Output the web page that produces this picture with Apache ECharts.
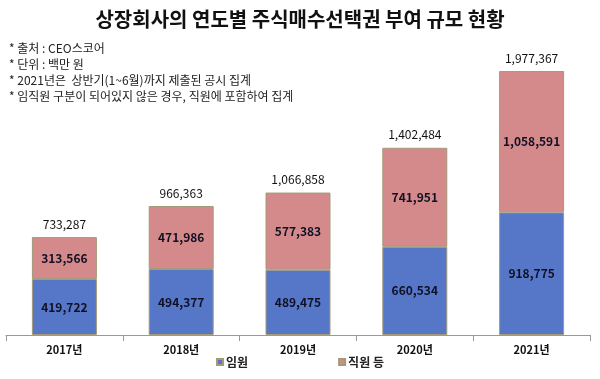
<!DOCTYPE html>
<html><head><meta charset="utf-8">
<script src="https://cdn.jsdelivr.net/npm/echarts@6/dist/echarts.min.js"></script>
<style>html,body{margin:0;padding:0;background:#fff}#c{width:600px;height:379px}</style>
</head><body><div id="c"></div>
<script>
const categories = ['2017년', '2018년', '2019년', '2020년', '2021년'];
const executives = [419722, 494377, 489475, 660534, 918775];
const employees = [313566, 471986, 577383, 741951, 1058591];
const totals = [733287, 966363, 1066858, 1402484, 1977367];
const seriesNames = ['임원', '직원 등'];
const titleText = '상장회사의 연도별 주식매수선택권 부여 규모 현황';
const notes = ['* 출처 : CEO스코어', '* 단위 : 백만 원', '* 2021년은  상반기(1~6월)까지 제출된 공시 집계', '* 임직원 구분이 되어있지 않은 경우, 직원에 포함하여 집계'];

const fmt = v => Number(v).toLocaleString('en-US');
const FONT = '"Noto Sans CJK KR", "Noto Sans", sans-serif';
const chart = echarts.init(document.getElementById('c'), null, {renderer: 'canvas'});
chart.setOption({
  animation: false,
  textStyle: {fontFamily: FONT},
  title: [
    {text: titleText, left: 'center', top: 4,
     textStyle: {fontFamily: FONT, fontSize: 20, fontWeight: 'bold', color: '#111'}},
    {text: notes.join('\n'), left: 4, top: 35,
     textStyle: {fontFamily: FONT, fontSize: 12, fontWeight: 'normal', color: '#222', lineHeight: 16}}
  ],
  legend: {
    bottom: 6, left: 'center', icon: 'rect', itemWidth: 6, itemHeight: 6, itemGap: 90,
    textStyle: {fontFamily: FONT, fontSize: 12, fontWeight: 'bold', color: '#222', padding: [0,0,0,-2]},
    data: seriesNames
  },
  grid: {left: 6, right: 10, top: 68, bottom: 44},
  xAxis: {
    type: 'category', data: categories, boundaryGap: true,
    axisLine: {lineStyle: {color: '#999', width: 1}},
    axisTick: {show: true, length: 6, lineStyle: {color: '#999'}},
    axisLabel: {fontFamily: FONT, fontSize: 11, fontWeight: 'bold', color: '#111', margin: 9}
  },
  yAxis: {type: 'value', min: 0, max: 2000000, show: false, splitLine: {show: false}},
  series: [
    {name: seriesNames[0], type: 'bar', stack: 'a', data: executives, barWidth: 65,
     itemStyle: {color: '#5677c7', borderColor: '#a49a78', borderWidth: 1},
     label: {show: true, position: 'inside', formatter: p => fmt(p.value),
       fontFamily: FONT, fontSize: 12, fontWeight: 'bold', color: '#101025'}},
    {name: seriesNames[1], type: 'bar', stack: 'a', data: employees, barWidth: 65,
     itemStyle: {color: '#d48a8a', borderColor: '#a49a78', borderWidth: 1},
     label: {show: true, position: 'inside', formatter: p => fmt(p.value),
       fontFamily: FONT, fontSize: 12, fontWeight: 'bold', color: '#101025'}},
    {name: '합계', type: 'line', data: totals, symbol: 'circle', symbolSize: 2,
     itemStyle: {color: 'rgba(0,0,0,0)'}, lineStyle: {width: 0, color: 'rgba(0,0,0,0)'}, silent: true,
     label: {show: true, position: 'top', distance: 6, formatter: p => fmt(p.value),
       fontFamily: FONT, fontSize: 12, color: '#111'}}
  ]
});
</script></body></html>
